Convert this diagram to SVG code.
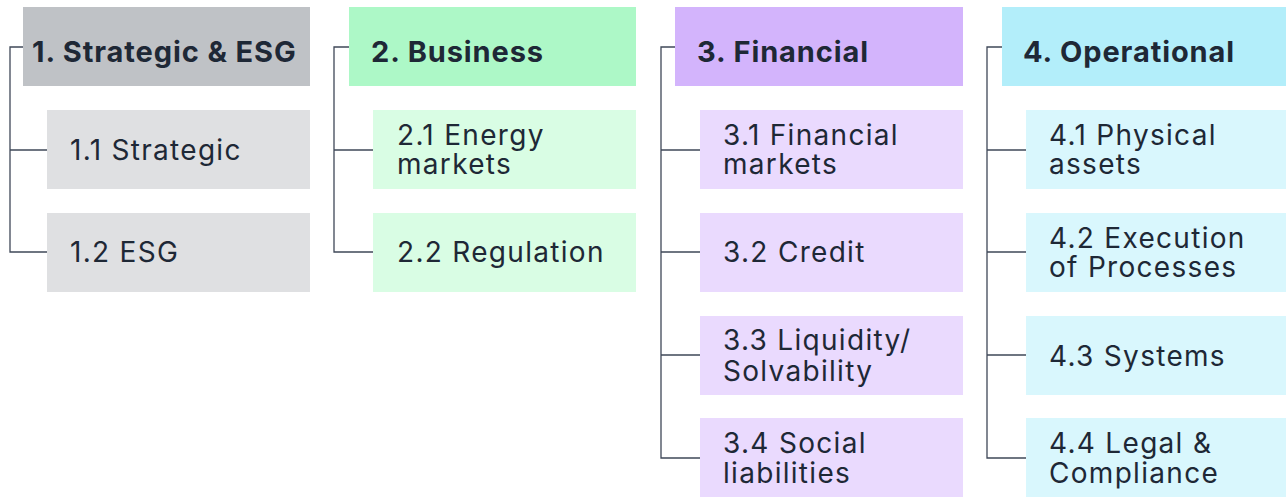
<svg xmlns="http://www.w3.org/2000/svg" width="1286" height="497" viewBox="0 0 1286 497">
<style>
.h{font-family:Inter,"Noto Sans",sans-serif;font-weight:700;font-size:29px;letter-spacing:0.9px;fill:#1e2836}
.t{font-family:Inter,"Noto Sans",sans-serif;font-weight:400;font-size:28px;letter-spacing:1.3px;fill:#1e2836}
.c{stroke:#3f4858;stroke-width:1.3;fill:none}
.g1{fill:#bfc2c6}.g2{fill:#dfe0e2}
.n1{fill:#adf8c7}.n2{fill:#d9fde4}
.p1{fill:#d3b4fc}.p2{fill:#eadafe}
.b1{fill:#b3eefa}.b2{fill:#d9f7fd}
</style>
<rect width="1286" height="497" fill="#ffffff"/>
<g id="connectors">
<path class="c" d="M23,47H10V252H47M10,150H47"/>
<path class="c" d="M349,47H334V252H373M334,150H373"/>
<path class="c" d="M675,47H661V458H700M661,150H700M661,252H700M661,355H700"/>
<path class="c" d="M1002,47H987V458H1026M987,150H1026M987,252H1026M987,355H1026"/>
</g>
<g id="n1"><rect class="g1" x="23" y="7" width="287" height="79"/><text class="h" x="32" y="62">1. Strategic &amp; ESG</text></g>
<g id="n1_1"><rect class="g2" x="47" y="110" width="263" height="79"/><text class="t" x="70" y="160">1.1 Strategic</text></g>
<g id="n1_2"><rect class="g2" x="47" y="213" width="263" height="79"/><text class="t" x="70" y="262">1.2 ESG</text></g>
<g id="n2"><rect class="n1" x="349" y="7" width="287" height="79"/><text class="h" x="371" y="62">2. Business</text></g>
<g id="n2_1"><rect class="n2" x="373" y="110" width="263" height="79"/><text class="t" x="397" y="145">2.1 Energy<tspan x="397" dy="29">markets</tspan></text></g>
<g id="n2_2"><rect class="n2" x="373" y="213" width="263" height="79"/><text class="t" x="397" y="262">2.2 Regulation</text></g>
<g id="n3"><rect class="p1" x="675" y="7" width="288" height="79"/><text class="h" x="697" y="62">3. Financial</text></g>
<g id="n3_1"><rect class="p2" x="700" y="110" width="263" height="79"/><text class="t" x="723" y="145">3.1 Financial<tspan x="723" dy="29">markets</tspan></text></g>
<g id="n3_2"><rect class="p2" x="700" y="213" width="263" height="79"/><text class="t" x="723" y="262">3.2 Credit</text></g>
<g id="n3_3"><rect class="p2" x="700" y="316" width="263" height="79"/><text class="t" x="723" y="350">3.3 Liquidity/<tspan x="723" dy="31">Solvability</tspan></text></g>
<g id="n3_4"><rect class="p2" x="700" y="418" width="263" height="79"/><text class="t" x="723" y="453">3.4 Social<tspan x="723" dy="30">liabilities</tspan></text></g>
<g id="n4"><rect class="b1" x="1002" y="7" width="284" height="79"/><text class="h" x="1023" y="62">4. Operational</text></g>
<g id="n4_1"><rect class="b2" x="1026" y="110" width="260" height="79"/><text class="t" x="1049" y="145">4.1 Physical<tspan x="1049" dy="29">assets</tspan></text></g>
<g id="n4_2"><rect class="b2" x="1026" y="213" width="260" height="79"/><text class="t" x="1049" y="248">4.2 Execution<tspan x="1049" dy="29">of Processes</tspan></text></g>
<g id="n4_3"><rect class="b2" x="1026" y="316" width="260" height="79"/><text class="t" x="1049" y="366">4.3 Systems</text></g>
<g id="n4_4"><rect class="b2" x="1026" y="418" width="260" height="79"/><text class="t" x="1049" y="453">4.4 Legal &amp;<tspan x="1049" dy="30">Compliance</tspan></text></g>
</svg>
